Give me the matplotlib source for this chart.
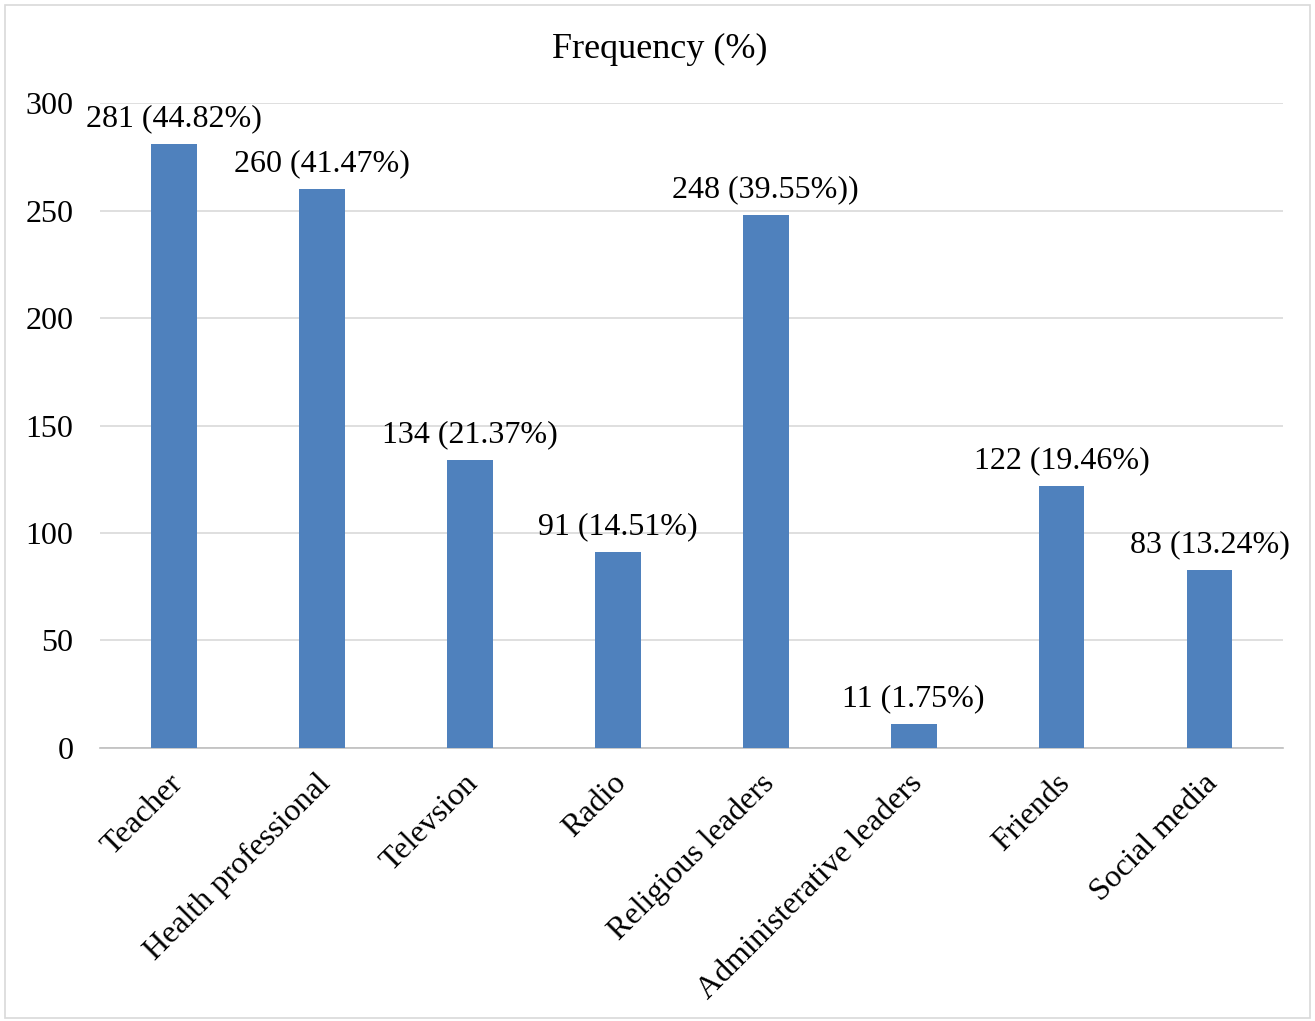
import matplotlib.pyplot as plt
from matplotlib.patches import Rectangle
from matplotlib.transforms import ScaledTranslation

categories = ["Teacher", "Health professional", "Televsion", "Radio",
              "Religious leaders", "Administerative leaders", "Friends", "Social media"]
counts = [281, 260, 134, 91, 248, 11, 122, 83]
labels = ["281 (44.82%)", "260 (41.47%)", "134 (21.37%)", "91 (14.51%)",
          "248 (39.55%))", "11 (1.75%)", "122 (19.46%)", "83 (13.24%)"]

plt.rcParams['font.family'] = ['Liberation Serif', 'DejaVu Serif']

fig = plt.figure(figsize=(13.15, 10.21), dpi=100)
ax = fig.add_axes([0.076, 0.2674, 0.9, 0.6317])

x = range(len(categories))
bars = ax.bar(x, counts, width=0.31, color='#4F81BD', zorder=3)
for b, lab in zip(bars, labels):
    ax.text(b.get_x() + b.get_width() / 2, b.get_height() + 5, lab,
            ha='center', va='bottom', fontsize=23)

ax.set_ylim(0, 300)
ax.set_xlim(-0.5, len(categories) - 0.5)
ax.set_yticks(range(0, 301, 50))
ax.tick_params(axis='y', labelsize=23, length=0, pad=19)
ax.set_xticks(list(x))
ax.set_xticklabels(categories, rotation=45, ha='right', rotation_mode='anchor', fontsize=23)
ax.tick_params(axis='x', length=0, pad=15)
shift = ScaledTranslation(-6 / 100, 0, fig.dpi_scale_trans)
for t in ax.get_xticklabels():
    t.set_transform(t.get_transform() + shift)
ax.grid(axis='y', color='#D9D9D9', linewidth=1.2, zorder=0)
for s in ['top', 'right', 'left']:
    ax.spines[s].set_visible(False)
ax.spines['bottom'].set_color('#BFBFBF')
ax.spines['bottom'].set_linewidth(1.2)

fig.text(0.502, 0.952, "Frequency (%)", ha='center', va='center', fontsize=26)
fig.patches.append(Rectangle((0.004, 0.003), 0.992, 0.992, transform=fig.transFigure,
                             fill=False, edgecolor='#D9D9D9', linewidth=1.2))

fig.savefig('out.png', dpi=100)
